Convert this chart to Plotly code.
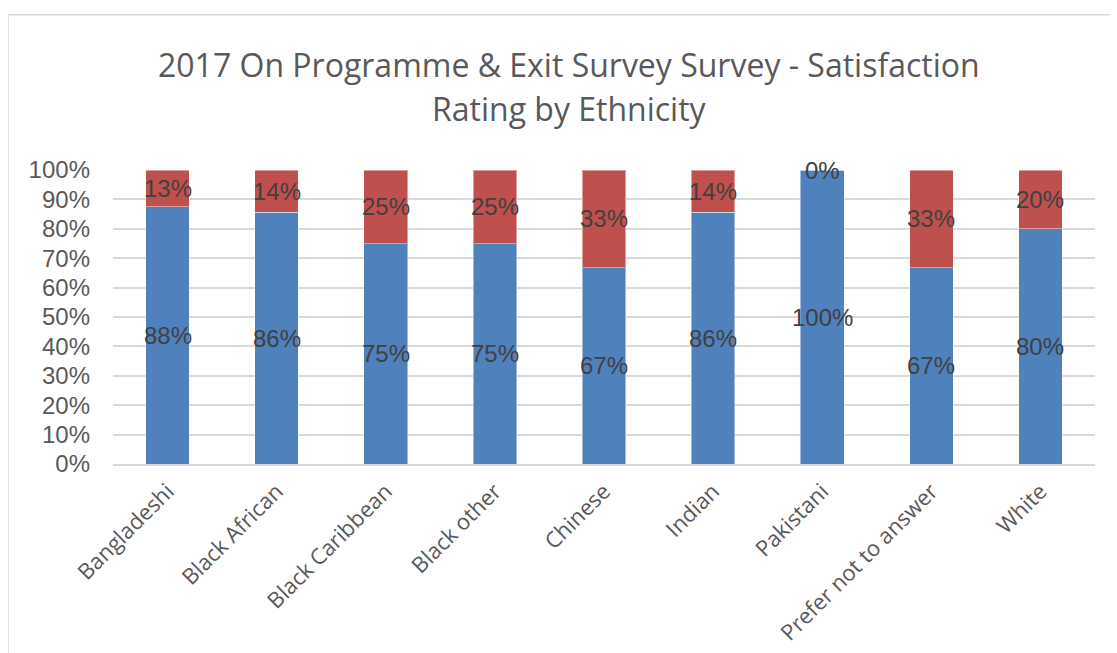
import plotly.graph_objects as go

categories = ["Bangladeshi", "Black African", "Black Caribbean", "Black other",
              "Chinese", "Indian", "Pakistani", "Prefer not to answer", "White"]
satisfied = [0.875, 0.857, 0.75, 0.75, 0.667, 0.857, 1.0, 0.667, 0.80]
not_satisfied = [0.125, 0.143, 0.25, 0.25, 0.333, 0.143, 0.0, 0.333, 0.20]
y_ticks = [i / 10 for i in range(11)]
title_lines = ["2017 On Programme & Exit Survey Survey - Satisfaction", "Rating by Ethnicity"]

BLUE = "#4F81BD"
RED = "#C0504D"
LABEL = "#404040"
GREY = "#595959"

# page body adds an 8px offset; compensate
OFF = 8
W, H = 1117, 653
PL, PR, PT, PB = 113 - OFF, 1095 - OFF, 170 - OFF, 464 - OFF


def pct(v):
    return f"{int(v * 100 + 0.5)}%"


fig = go.Figure()
fig.add_trace(go.Bar(x=categories, y=satisfied, marker=dict(color=BLUE, line=dict(color="rgba(255,255,255,0.45)", width=1)),
                     name="Satisfied", hoverinfo="skip"))
fig.add_trace(go.Bar(x=categories, y=not_satisfied, marker=dict(color=RED, line=dict(color="rgba(255,255,255,0.45)", width=1)),
                     name="Not satisfied", hoverinfo="skip"))

annotations = []
for c, s, n in zip(categories, satisfied, not_satisfied):
    annotations.append(dict(x=c, y=s / 2, xref="x", yref="y", text=pct(s), showarrow=False,
                            font=dict(family="Liberation Sans, Arial", size=24, color=LABEL)))
    annotations.append(dict(x=c, y=s + n / 2, xref="x", yref="y", text=pct(n), showarrow=False,
                            font=dict(family="Liberation Sans, Arial", size=24, color=LABEL)))

title_y = [65 - OFF, 108 - OFF]
for txt, ty in zip(title_lines, title_y):
    annotations.append(dict(text=txt, xref="paper", yref="paper", showarrow=False,
                            x=(569 - OFF - PL) / (PR - PL), y=(PB - ty) / (PB - PT),
                            xanchor="center", yanchor="middle",
                            font=dict(family="Open Sans", size=32, color=GREY)))

fig.update_layout(
    barmode="stack",
    bargap=0.6,
    width=W, height=H,
    margin=dict(l=PL, r=W - PR, t=PT, b=H - PB),
    paper_bgcolor="white",
    plot_bgcolor="white",
    showlegend=False,
    annotations=annotations,
    shapes=[dict(type="rect", xref="paper", yref="paper",
                 x0=(8 - OFF - PL) / (PR - PL), x1=1.2, y0=-1.0, y1=(PB - (14.7 - OFF)) / (PB - PT),
                 line=dict(color="#D9D9D9", width=1.5), fillcolor="rgba(0,0,0,0)", layer="below")],
    xaxis=dict(tickangle=-45, tickfont=dict(family="Open Sans", size=22, color=GREY),
               showgrid=False, showline=True, linecolor="#D9D9D9", linewidth=1.5, ticks="",
               ticklabelstandoff=4),
    yaxis=dict(range=[0, 1.0], tickvals=y_ticks, tickformat=".0%",
               tickfont=dict(family="Liberation Sans, Arial", size=24, color=GREY),
               showgrid=True, gridcolor="#D9D9D9", gridwidth=1.5, zeroline=False,
               ticks="", ticklabelstandoff=22),
)

fig.write_html("out.html")
